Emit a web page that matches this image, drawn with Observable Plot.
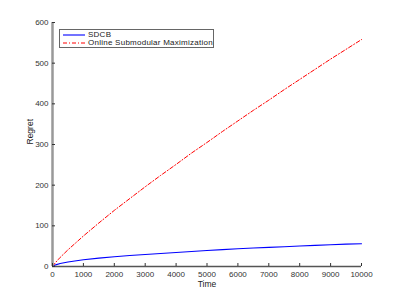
<!DOCTYPE html>
<html>
<head>
<meta charset="utf-8">
<script src="https://cdn.jsdelivr.net/npm/d3@7"></script>
<script src="https://cdn.jsdelivr.net/npm/@observablehq/plot@0.6"></script>
<style>
  html, body { margin: 0; padding: 0; background: #fff; }
  #wrap { position: relative; width: 399px; height: 299px; font-family: "Liberation Sans", Arial, sans-serif; }
  #legend { position: absolute; left: 59px; top: 29px; width: 153px; height: 17px; border: 1.5px solid #666; background: #fff; font-size: 8px; letter-spacing: 0.25px; color: #222; }
  .row { position: absolute; left: 3px; height: 8px; display: flex; align-items: center; white-space: nowrap; }
  .row svg { margin-right: 3px; }
  .row span { display: inline-block; line-height: 8px; height: 8px; }
</style>
</head>
<body>
<div id="wrap"></div>
<script>
const time = [0, 100, 250, 500, 1000, 1500, 2000, 2500, 3000, 3500, 4000, 4500, 5000, 5500, 6000, 6500, 7000, 7500, 8000, 8500, 9000, 9500, 10000];
const sdcb = [0, 4, 7.5, 11, 16.5, 20.5, 24, 27, 29.5, 32, 34.5, 37, 39.5, 41.5, 43.5, 45.5, 47, 48.5, 50.5, 52, 53.5, 55, 56];
const osm = [0, 10, 22.5, 41, 75, 107, 138, 167, 196, 224, 251, 279, 305, 332, 358, 384, 409, 435, 460, 485, 510, 534, 558];
const seriesNames = ["SDCB", "Online Submodular Maximization"];
const xTicks = [0, 1000, 2000, 3000, 4000, 5000, 6000, 7000, 8000, 9000, 10000];
const yTicks = [0, 100, 200, 300, 400, 500, 600];

const rows = [];
time.forEach((t, i) => {
  rows.push({t, v: sdcb[i], s: seriesNames[0]});
  rows.push({t, v: osm[i], s: seriesNames[1]});
});

const chart = Plot.plot({
  width: 399,
  height: 299,
  marginLeft: 52,
  marginRight: 38,
  marginTop: 22,
  marginBottom: 33,
  style: { fontFamily: "'Liberation Sans', Arial, sans-serif", fontSize: "8px", color: "#333", background: "#fff" },
  x: { domain: [0, 10000], label: null },
  y: { domain: [0, 600], label: null },
  marks: [
    Plot.line(rows.filter(d => d.s === seriesNames[1]), { x: "t", y: "v", stroke: "#ff0000", strokeWidth: 1, strokeDasharray: "4,2,1,2" }),
    Plot.line(rows.filter(d => d.s === seriesNames[0]), { x: "t", y: "v", stroke: "#0000ff", strokeWidth: 1.1 }),
    Plot.ruleX([0], { stroke: "#999", strokeWidth: 2.5 }),
    Plot.ruleY([0], { stroke: "#555", strokeWidth: 1.5 }),
    Plot.axisY(yTicks, { tickSize: -3, text: null, label: null, stroke: "#333" }),
    Plot.axisY(yTicks, { tickSize: 0, tickPadding: 4, label: null, fill: "#333" }),
    Plot.axisX(xTicks, { tickSize: -3, text: null, label: null, stroke: "#333" }),
    Plot.axisX(xTicks, { tickSize: 0, tickPadding: 5, label: null, fill: "#333", tickFormat: d => String(d) }),
    Plot.text(["Regret"], { frameAnchor: "left", dx: -22, rotate: -90, fill: "#222", fontSize: 8.5 }),
    Plot.text(["Time"], { frameAnchor: "bottom", dy: 20, fill: "#222", fontSize: 8.5 })
  ]
});

const wrap = document.getElementById("wrap");
wrap.appendChild(chart);

const legend = document.createElement("div");
legend.id = "legend";
legend.innerHTML =
  `<div class="row" style="top:0.5px"><svg width="22" height="4"><line x1="0" y1="2" x2="22" y2="2" stroke="#0000ff" stroke-width="1.1"/></svg><span>${seriesNames[0]}</span></div>` +
  `<div class="row" style="top:8.5px"><svg width="22" height="4"><line x1="0" y1="2" x2="22" y2="2" stroke="#ff0000" stroke-width="1" stroke-dasharray="4,2,1,2"/></svg><span>${seriesNames[1]}</span></div>`;
wrap.appendChild(legend);
</script>
</body>
</html>
